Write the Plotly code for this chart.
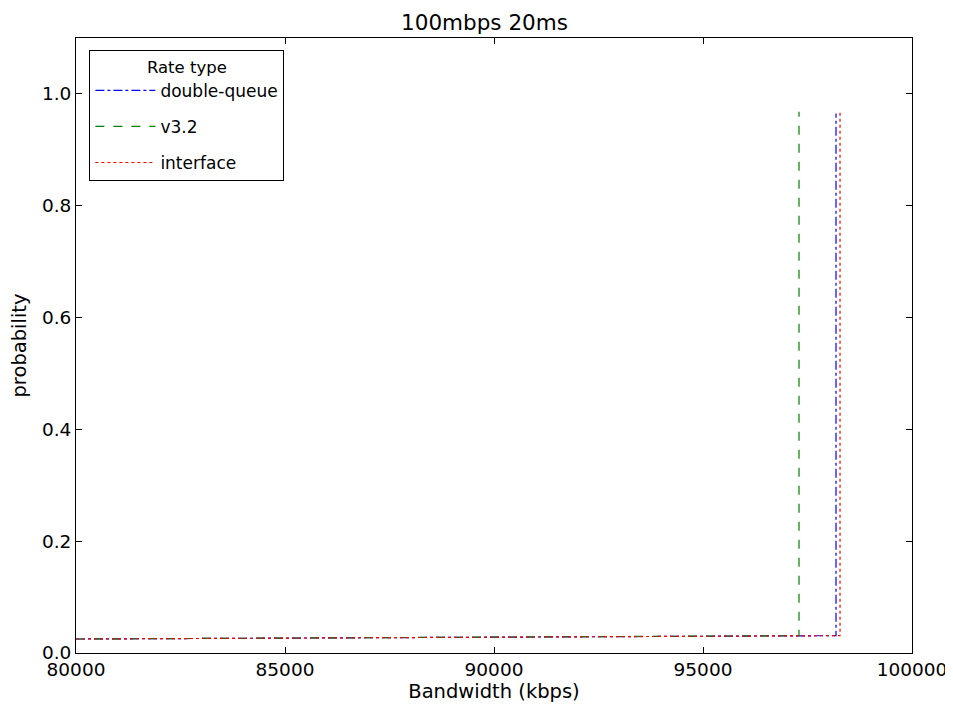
import plotly.graph_objects as go

# Data
dq_x = [80000, 85000, 90000, 95000, 98182, 98182]
dq_y = [0.025, 0.027, 0.028, 0.030, 0.031, 0.965]
v32_x = [80000, 85000, 90000, 95000, 97297, 97297]
v32_y = [0.025, 0.027, 0.028, 0.030, 0.031, 0.968]
if_x = [80000, 85000, 90000, 95000, 98278, 98278]
if_y = [0.025, 0.027, 0.028, 0.030, 0.031, 0.968]

x_ticks = [80000, 85000, 90000, 95000, 100000]
y_ticks = [0.0, 0.2, 0.4, 0.6, 0.8, 1.0]

FONT = "DejaVu Sans"

fig = go.Figure()
fig.add_trace(go.Scatter(x=dq_x, y=dq_y, mode="lines", name="double-queue", legendgroup="a",
                         line=dict(color="blue", width=1.2, dash="dashdot")))
fig.add_trace(go.Scatter(x=v32_x, y=v32_y, mode="lines", name="v3.2", legendgroup="b",
                         line=dict(color="green", width=1.2, dash="dash")))
fig.add_trace(go.Scatter(x=if_x, y=if_y, mode="lines", name="interface", legendgroup="c",
                         line=dict(color="red", width=1.2, dash="dot")))

axis_common = dict(showgrid=False, zeroline=False, showline=True, linecolor="black",
                   linewidth=1, mirror="allticks", ticks="inside", ticklen=6,
                   tickcolor="black", automargin=False,
                   tickfont=dict(family=FONT, size=18.5, color="black"))

fig.update_layout(
    width=953, height=706,
    margin=dict(l=68, r=49, t=30, b=61),
    paper_bgcolor="white", plot_bgcolor="white",
    title=dict(text="100mbps 20ms", x=0.5, xanchor="center", y=0.99, yanchor="top",
               font=dict(family=FONT, size=21.5, color="black")),
    xaxis=dict(range=[80000, 100000], tickvals=x_ticks,
               ticktext=[str(v) for v in x_ticks],
               title=dict(text="Bandwidth (kbps)", font=dict(family=FONT, size=19.5, color="black"),
                          standoff=2),
               **axis_common),
    yaxis=dict(range=[0, 1.1], tickvals=y_ticks,
               ticktext=[f"{v:.1f}" for v in y_ticks],
               title=dict(text="probability", font=dict(family=FONT, size=19.5, color="black"),
                          standoff=12),
               **axis_common),
    legend=dict(x=0.016, y=0.98, xanchor="left", yanchor="top",
                bgcolor="white", bordercolor="black", borderwidth=1,
                font=dict(family=FONT, size=17, color="black"),
                title=dict(text="Rate type", side="top center",
                           font=dict(family=FONT, size=16.5, color="black")),
                itemwidth=60, tracegroupgap=11),
    showlegend=True,
)

fig.write_html("out.html")
